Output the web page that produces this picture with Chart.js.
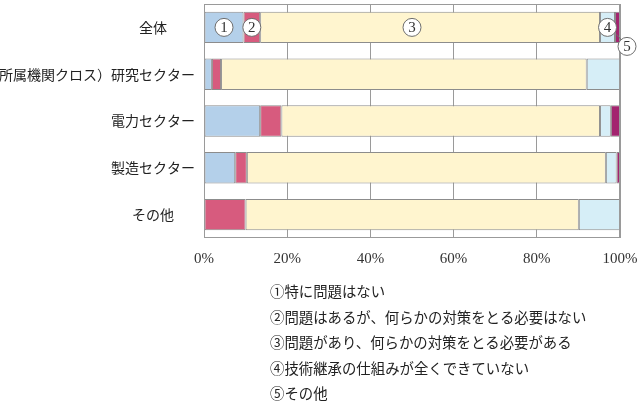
<!DOCTYPE html>
<html lang="ja">
<head>
<meta charset="utf-8">
<style>
html, body { margin: 0; padding: 0; background: #fff; }
canvas { display: block; }
</style>
<script src="https://cdn.jsdelivr.net/npm/chart.js@4.4.1/dist/chart.umd.min.js"></script>
</head>
<body>
<canvas id="chart" width="639" height="411"></canvas>
<script>
'use strict';

// 縦軸の項目
var categories = ['全体', '（所属機関クロス）研究セクター', '電力セクター', '製造セクター', 'その他'];

// 回答ごとの割合(%)
var answer1 = [9.5, 1.9, 13.5, 7.5, 0];
var answer2 = [4.0, 2.2, 5.1, 2.8, 10.0];
var answer3 = [81.7, 87.9, 76.6, 86.3, 80.1];
var answer4 = [3.6, 8.0, 2.6, 2.6, 9.9];
var answer5 = [1.2, 0, 2.2, 0.8, 0];

// 凡例の文言
var answerNames = [
	'特に問題はない',
	'問題はあるが、何らかの対策をとる必要はない',
	'問題があり、何らかの対策をとる必要がある',
	'技術継承の仕組みが全くできていない',
	'その他'
];
var answerMarks = ['①', '②', '③', '④', '⑤'];

// 横軸の目盛
var xTicks = [0, 20, 40, 60, 80, 100];

var colors = ['#b4d0ea', '#d75b7e', '#fff5cf', '#d6eef7', '#a3246f'];
var values = [answer1, answer2, answer3, answer4, answer5];

var jpFont = '"Noto Sans CJK JP", "Noto Sans", sans-serif';
var numFont = '"Liberation Serif", "DejaVu Serif", serif';

var datasets = [];
for (var i = 0; i < values.length; i++) {
	datasets.push({
		label: answerNames[i],
		data: values[i],
		backgroundColor: colors[i],
		borderColor: '#8c8c8c',
		borderWidth: 1,
		borderSkipped: false,
		categoryPercentage: 1,
		barPercentage: 0.67
	});
}

// 短い項目名は少し左に寄せる
function yLabel(label) {
	if (label === '全体') return label + '\u3000\u3000';
	if (label === 'その他') return label + '\u3000\u2002';
	return label;
}

// 枠線
var framePlugin = {
	id: 'frame',
	afterDatasetsDraw: function(chart) {
		var a = chart.chartArea;
		var ctx = chart.ctx;
		ctx.save();
		ctx.strokeStyle = '#9a9a9a';
		ctx.lineWidth = 1;
		ctx.strokeRect(Math.round(a.left) + 0.5, Math.round(a.top) + 0.5,
			Math.round(a.right - a.left) - 1, Math.round(a.bottom - a.top) - 1);
		ctx.restore();
	}
};

function drawCircleNum(ctx, x, y, n) {
	ctx.beginPath();
	ctx.arc(x, y, 9, 0, Math.PI * 2);
	ctx.fillStyle = '#fff';
	ctx.fill();
	ctx.strokeStyle = '#6e6e6e';
	ctx.lineWidth = 1;
	ctx.stroke();
	ctx.fillStyle = '#333';
	ctx.font = '15px ' + numFont;
	ctx.textAlign = 'center';
	ctx.textBaseline = 'middle';
	ctx.fillText(String(n), x, y + 1);
}

// 全体の棒に番号の丸を付ける
var markPlugin = {
	id: 'marks',
	afterDatasetsDraw: function(chart) {
		var ctx = chart.ctx;
		var xs = chart.scales.x;
		ctx.save();
		for (var i = 0; i < values.length; i++) {
			var bar = chart.getDatasetMeta(i).data[0];
			var mid = (bar.x + bar.base) / 2;
			var cy = bar.y;
			if (i === 2) mid = xs.getPixelForValue(50);
			if (i === 4) {
				var cx = bar.x + 7;
				cy = bar.y + 19;
				ctx.beginPath();
				ctx.moveTo(mid - 1, bar.y + 7);
				ctx.lineTo(cx, cy);
				ctx.strokeStyle = '#6e6e6e';
				ctx.lineWidth = 1;
				ctx.stroke();
				mid = cx;
			}
			drawCircleNum(ctx, mid, cy, i + 1);
		}
		ctx.restore();
	}
};

// 下の凡例（文字だけ）
var notePlugin = {
	id: 'notes',
	afterDraw: function(chart) {
		var ctx = chart.ctx;
		ctx.save();
		ctx.fillStyle = '#222';
		ctx.font = '14.4px ' + jpFont;
		ctx.textAlign = 'left';
		ctx.textBaseline = 'middle';
		for (var i = 0; i < answerNames.length; i++) {
			ctx.fillText(answerMarks[i] + answerNames[i], 270, 292 + i * 25.5);
		}
		ctx.restore();
	}
};

var ctx = document.getElementById('chart');
var chart = new Chart(ctx, {
	type: 'bar',
	data: {
		labels: categories,
		datasets: datasets
	},
	options: {
		responsive: false,
		animation: false,
		indexAxis: 'y',
		layout: { padding: { top: 4, right: 19, left: 0, bottom: 0 } },
		plugins: {
			legend: { display: false },
			tooltip: { enabled: false }
		},
		scales: {
			x: {
				stacked: true,
				min: 0,
				max: 100,
				afterBuildTicks: function(s) {
					s.ticks = xTicks.map(function(v) { return { value: v }; });
				},
				ticks: {
					callback: function(v) { return v + '%'; },
					font: { family: numFont, size: 15 },
					color: '#333',
					padding: 12,
					maxRotation: 0
				},
				grid: { color: '#9a9a9a', lineWidth: 1, drawTicks: false },
				border: { display: false },
				afterFit: function(s) {
					s.height = 173;
					s.paddingLeft = 0;
					s.paddingRight = 0;
				}
			},
			y: {
				stacked: true,
				ticks: {
					callback: function(v) { return yLabel(categories[v]); },
					font: { family: jpFont, size: 14 },
					color: '#222',
					padding: 9
				},
				grid: { display: false, drawTicks: false },
				border: { display: false },
				afterFit: function(s) {
					s.width = 204;
					s.paddingTop = 0;
					s.paddingBottom = 0;
				}
			}
		}
	},
	plugins: [framePlugin, markPlugin, notePlugin]
});
</script>
</body>
</html>
